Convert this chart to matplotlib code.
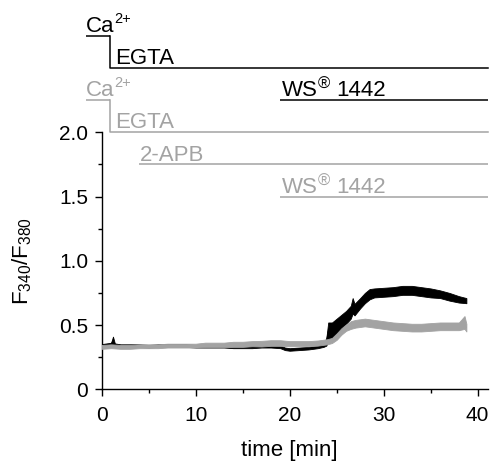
import matplotlib
matplotlib.use("Agg")
import matplotlib.pyplot as plt
import numpy as np

plt.rcParams['font.family'] = ['Liberation Sans', 'DejaVu Sans']
plt.rcParams['mathtext.fontset'] = 'custom'
plt.rcParams['mathtext.rm'] = 'Liberation Sans'
plt.rcParams['mathtext.it'] = 'Liberation Sans'
plt.rcParams['mathtext.bf'] = 'Liberation Sans:bold'

# ---- data ----
black_t = [0, 0.5, 1.0, 1.2, 1.4, 2, 3, 4, 5, 6, 7, 8, 9, 10, 11, 12, 13, 14, 15, 16, 17, 18,
           19, 19.5, 20, 21, 22, 23, 23.6, 23.9, 24.1, 24.5, 25, 25.5, 26, 26.5, 26.7, 26.9, 27.5, 28,
           28.5, 29, 30, 31, 32, 33, 34, 35, 36, 37, 38, 38.8]
black_mid = [0.34, 0.345, 0.35, 0.38, 0.345, 0.34, 0.34, 0.34, 0.335, 0.34, 0.34, 0.34, 0.34,
             0.335, 0.335, 0.335, 0.335, 0.33, 0.33, 0.33, 0.335, 0.335, 0.33, 0.315, 0.31,
             0.315, 0.32, 0.33, 0.34, 0.37, 0.45, 0.46, 0.49, 0.52, 0.56, 0.60, 0.65, 0.62, 0.67, 0.71,
             0.74, 0.75, 0.755, 0.76, 0.77, 0.77, 0.76, 0.75, 0.74, 0.72, 0.70, 0.69]
black_half = [0.012, 0.012, 0.012, 0.03, 0.012, 0.01, 0.01, 0.01, 0.01, 0.01, 0.01, 0.01, 0.01,
              0.01, 0.01, 0.01, 0.01, 0.01, 0.01, 0.01, 0.01, 0.01, 0.01, 0.01, 0.01,
              0.01, 0.01, 0.01, 0.01, 0.03, 0.07, 0.06, 0.06, 0.06, 0.05, 0.05, 0.06, 0.045, 0.04, 0.04,
              0.04, 0.035, 0.035, 0.035, 0.035, 0.035, 0.035, 0.035, 0.03, 0.03, 0.025, 0.02]

gray_t = [0, 1, 2, 3, 4, 5, 6, 7, 8, 9, 10, 11, 12, 13, 14, 15, 16, 17, 18, 19, 20, 21, 22,
          23, 24, 24.5, 25, 25.5, 26, 26.5, 27, 28, 29, 30, 31, 32, 33, 34, 35, 36, 37, 38, 38.6, 38.8]
gray_mid = [0.33, 0.335, 0.33, 0.33, 0.335, 0.335, 0.335, 0.34, 0.34, 0.34, 0.34, 0.345, 0.345,
            0.345, 0.35, 0.35, 0.355, 0.355, 0.36, 0.36, 0.355, 0.355, 0.355,
            0.36, 0.37, 0.38, 0.41, 0.45, 0.48, 0.50, 0.51, 0.52, 0.51, 0.50, 0.49, 0.485, 0.48,
            0.48, 0.485, 0.49, 0.49, 0.49, 0.52, 0.48]
gray_half = [0.015, 0.015, 0.015, 0.015, 0.015, 0.015, 0.015, 0.015, 0.015, 0.015, 0.015, 0.018,
             0.018, 0.018, 0.02, 0.02, 0.02, 0.022, 0.022, 0.022, 0.02, 0.02, 0.02,
             0.02, 0.02, 0.02, 0.025, 0.025, 0.025, 0.03, 0.03, 0.03, 0.03, 0.03, 0.03, 0.03, 0.03,
             0.03, 0.03, 0.03, 0.03, 0.03, 0.05, 0.03]

xticks = [0, 10, 20, 30, 40]
yticks = [0, 0.5, 1.0, 1.5, 2.0]
ytick_labels = ['0', '0.5', '1.0', '1.5', '2.0']

# protocol bar levels and start times
black_ca_level, black_egta_level, black_ws_level = 2.75, 2.5, 2.25
gray_ca_level, gray_egta_level, gray_apb_level, gray_ws_level = 2.25, 2.0, 1.75, 1.5
ca_start, egta_start, apb_start, ws_start, bar_end = -1.65, 0.9, 4.0, 19.0, 41.1

BLACK = '#000000'
GRAY = '#a3a3a3'

W, H = 492, 461
fig = plt.figure(figsize=(W / 100, H / 100), dpi=100)
ax = fig.add_axes([101.7 / W, 71.7 / H, (488 - 101.7) / W, 257 / H])

bm = np.array(black_mid); bh = np.array(black_half)
gm = np.array(gray_mid); gh = np.array(gray_half)

ax.fill_between(black_t, bm - bh, bm + bh, color=BLACK, lw=0.6, zorder=3)
ax.plot(black_t, black_mid, color=BLACK, lw=0.6, zorder=3)
ax.fill_between(gray_t, gm - gh, gm + gh, color=GRAY, lw=0.6, zorder=4)
ax.plot(gray_t, gray_mid, color=GRAY, lw=0.6, zorder=4)

ax.set_xlim(0, 41.1)
ax.set_ylim(0, 2.0)
ax.spines['top'].set_visible(False)
ax.spines['right'].set_visible(False)
for s in ['left', 'bottom']:
    ax.spines[s].set_linewidth(1.0)

ax.set_xticks(xticks)
ax.set_xticks([5, 15, 25, 35], minor=True)
ax.set_yticks(yticks)
ax.set_yticklabels(ytick_labels)
ax.set_yticks([0.25, 0.75, 1.25, 1.75], minor=True)
ax.tick_params(axis='both', which='major', direction='out', length=4.8, width=1.0,
               labelsize=15)
ax.tick_params(axis='x', which='major', pad=7.5)
ax.tick_params(axis='y', which='major', pad=5)
ax.tick_params(axis='both', which='minor', direction='out', length=2.8, width=1.0)

ax.set_xlabel('time [min]', fontsize=16)
ax.xaxis.set_label_coords(20 / 41.1, -0.197)
ax.set_ylabel('F$_{340}$/F$_{380}$', fontsize=16)
ax.yaxis.set_label_coords(-0.175, 0.5)

FS = 16
dy = 0.03
sup_ca = 0.07
sup_r = 0.055
ca_sup_x = 1.3
ws_x = 19.15
r_x = 23.0
num_x = 24.95

def bar(x0, x1, y, color):
    ax.plot([x0, x1], [y, y], color=color, lw=1.1, clip_on=False, solid_capstyle='butt')

def label_ca(level, color):
    ax.text(ca_start, level + dy, 'Ca', color=color, fontsize=FS, va='baseline', clip_on=False)
    ax.text(ca_sup_x, level + dy + sup_ca, '2+', color=color, fontsize=10.5, va='baseline', clip_on=False)

def label_ws(level, color):
    ax.text(ws_x, level + dy, 'WS', color=color, fontsize=FS, va='baseline', clip_on=False)
    ax.text(r_x, level + dy + sup_r, '®', color=color, fontsize=12, va='baseline', clip_on=False)
    ax.text(num_x, level + dy, '1442', color=color, fontsize=FS, va='baseline', clip_on=False)

# black protocol
bar(ca_start, egta_start, black_ca_level, BLACK)
ax.plot([egta_start, egta_start, bar_end], [black_ca_level, black_egta_level, black_egta_level],
        color=BLACK, lw=1.1, clip_on=False)
bar(ws_start, bar_end, black_ws_level, BLACK)
label_ca(black_ca_level, BLACK)
ax.text(egta_start + 0.5, black_egta_level + dy, 'EGTA', color=BLACK, fontsize=FS, va='baseline', clip_on=False)
label_ws(black_ws_level, BLACK)

# gray protocol
bar(ca_start, egta_start, gray_ca_level, GRAY)
ax.plot([egta_start, egta_start, bar_end], [gray_ca_level, gray_egta_level, gray_egta_level],
        color=GRAY, lw=1.1, clip_on=False)
bar(apb_start, bar_end, gray_apb_level, GRAY)
bar(ws_start, bar_end, gray_ws_level, GRAY)
label_ca(gray_ca_level, GRAY)
ax.text(egta_start + 0.5, gray_egta_level + dy, 'EGTA', color=GRAY, fontsize=FS, va='baseline', clip_on=False)
ax.text(apb_start + 0.1, gray_apb_level + dy, '2-APB', color=GRAY, fontsize=FS, va='baseline', clip_on=False)
label_ws(gray_ws_level, GRAY)

fig.savefig('out.png', dpi=100)
